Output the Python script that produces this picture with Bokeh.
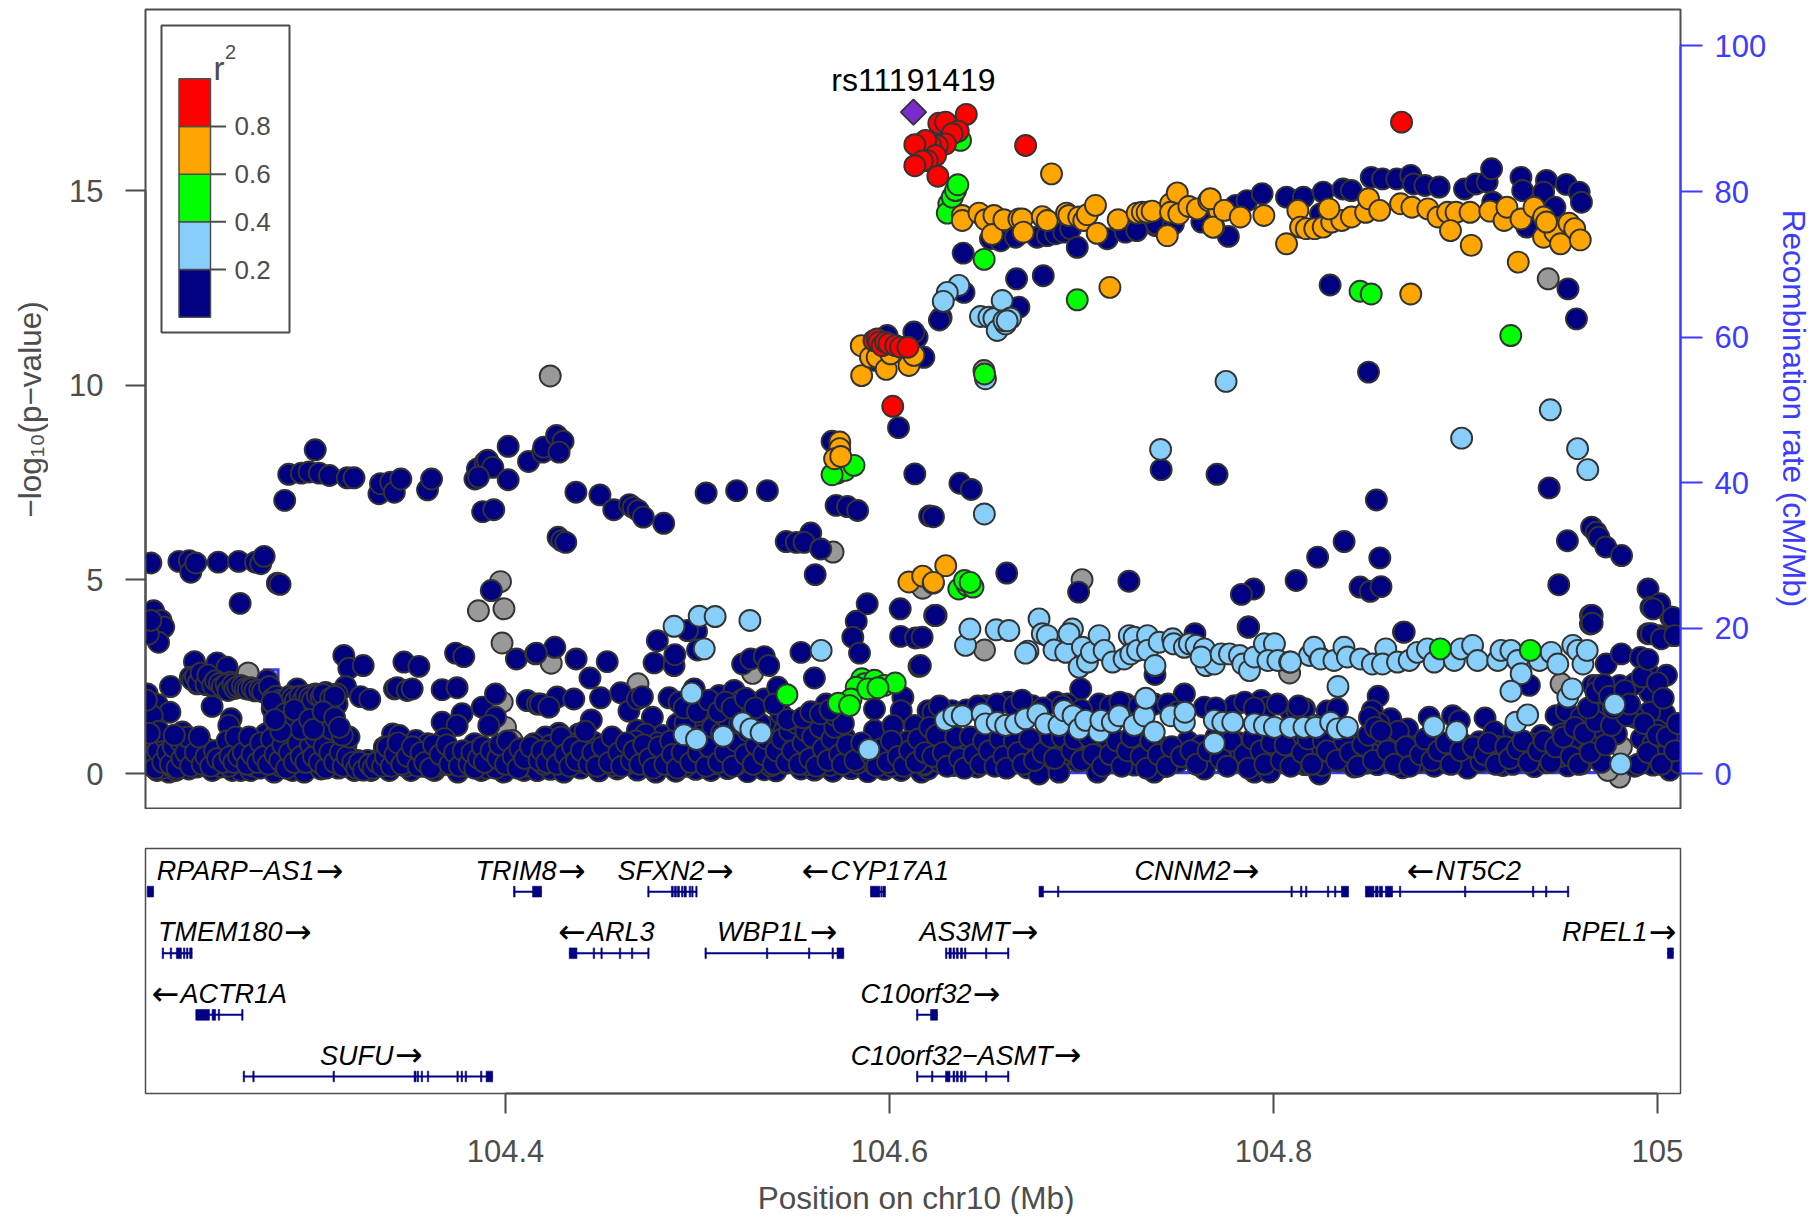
from bokeh.plotting import figure
from bokeh.layouts import column, row
from bokeh.models import Range1d, LinearAxis, FixedTicker
from bokeh.core.properties import value
from bokeh.embed import file_html
from bokeh.resources import INLINE
import math

# SNP positions are Mb above 104, values are -log10(p)
gray_x = [.4233,.5706,.3974,.3859,.3992,.3982,.2660,.4238,.4690,.5287,.6173,.6495,.8084,.6622,.7003,.9431,.6492,.9498,.9803,.9742,.9812,.3983,.4000,.4035,.2300,.4440,.5130]
gray_y = [10.24,5.71,4.95,4.2,4.25,3.37,2.6,2.85,2.32,2.59,4.78,3.19,2.6,.78,5.0,12.74,10.38,2.32,-.08,.09,.69,1.85,1.2,.86,.95,.4,.3]

navy_x = [
.5988,.5927,.6179,.6144,.6127,.6384,.6662,.6801,.6269,.6260,.6388,.6674,
.6526,.6579,.6657,.6769,.6822,.6865,.6908,.6943,.6978,.7134,.7230,.7290,.7386,.7464,.7638,.7765,.7229,.7288,.7391,.7479,.7627,.7803,.7862,.7941,.8068,.8156,.8259,.8362,.8406,.8509,.8568,.8642,.8715,.8730,.8789,.8863,.8995,.9054,.9113,.9136,.9289,.9298,.9422,.9407,.9525,.9592,.9604,.9466,.9319,.9142,.8245,
.8295,.9534,.9578,.8495,
.2850,.2871,.2937,.3009,.2977,.3030,.3083,.3176,.3211,.3341,.3349,.3402,.3421,.3455,.3594,.3615,.3841,.3854,.3894,.3907,.3934,.3859,.4014,.4014,.3881,.3939,.4120,.4194,.4199,.4266,.4300,.4279,.4367,.4492,.4564,.4646,.4665,.4691,.4718,.4824,.5045,.5204,.5364,.4274,.4293,.4314,.5462,.5515,.5590,.5555,.5642,.5613,.5701,.5722,.5781,.5834,.6047,.6132,.6209,.6367,.6426,.6229,
.7415,.7706,.8536,.9436,.9531,.9657,.9681,.9695,.9731,.9813,.9486,.9651,.9651,.9951,1.0010,.9966,1.0069,.9951,1.0010,1.0084,.8554,.8368,.8230,.8118,.7897,.7833,.8451,.8504,.8560,.6985,.7247,.6611,.6243,.7868,.8677,
.2153,.2299,.2353,.2361,.2387,.2504,.2610,.2698,.2725,.2743,.2812,.2826,.2618,.2167,.2206,.2220,.2193,.2140,.2153,.3926,
.2380,.2498,.2550,.2359,.2394,.2429,.2464,.2498,.2533,.2568,.2620,.2672,.2707,.2759,.2255,.2134,.2186,.2252,.2472,.2571,.2559,.3158,.3184,.3259,.3167,.3123,.3123,.3063,.3010,.2967,.2915,.2863,.2811,.2785,.3245,.3293,.2950,.3028,.3080,.3471,.3549,.3740,.3783,.3422,.3436,.3488,.3514,.3670,.3748,.3774,.3879,.3948,.3670,.3748,.3948,.3913,.4057,.4156,.4113,.4166,
.2143,.2186,.2203,.2230,.2247,.2282,.2317,.2325,.2351,.2377,.2395,.2430,.2456,.2473,.2517,.2543,.2578,.2604,.2621,.2647,.2673,.2699,.2752,.2760,.2795,.2812,.2847,.2882,.2891,.2952,.2952,.2969,.3021,.3039,.3073,.3056,.3126,.3169,.3160,.3213,.3230,.3300,.3282,.3352,.3395,.3412,.3447,.3369,.3508,.3473,.3534,.3595,.3630,.3639,.3682,.3700,.3752,.3770,.3839,.3874,.3865,.3939,.3983,.3991,.4017,.4026,.4096,.4140,.4166,.4123,
.2160,.2210,.2260,.2300,.2340,.2480,.2560,.2630,.2690,.2720,.2830,.3100,.3130,.3190,.3250,.3270,.3320,.3340,.3480,.3500,.3530,.3570,.3600,.3650,.3680,.3720,.3790,.3850,.3900,.3950,.4050,.4080,.4110,.4150,
.4257,.4161,.4368,.4530,.4440,.4269,.4356,.4182,.4226,.4495,.4600,.4643,.4687,.4713,.4447,.4791,.4774,.4878,.4882,.4995,.4948,.5000,.5235,.5278,.5348,.5371,.4852,.4904,.4983,.5113,.5191,.5226,.5278,.5348,.5418,.4765,.4817,.4574,.4278,.4208,.4382,.4461,.4687,.4730,.4896,.5035,.5157,.5087,.5383,.5435,.5522,.5609,.5670,.5670,.5766,.5922,.6070,.6061,.5922,.6201,.6131,.6018,.6088,.5809,.5505,.5452,.5261,.5174,.5131,.5609,.5539,.5827,.5809,.5844,.5884,.6056,.6058,.6136,.6154,.6235,
.4165,.4234,.4304,.4391,.4487,.4582,.4687,.4783,.4887,.4991,.5070,.5157,.5261,.5348,.5409,.5539,.5609,.5705,.5800,.5887,.5974,.6061,.6166,.6201,
.4182,.4252,.4339,.4426,.4522,.4617,.4713,.4817,.4913,.5017,.5104,.5209,.5331,.5426,.5479,.5592,.5731,.5870,.5940,.6027,.6122,
.4147,.4234,.4321,.4426,.4574,.4678,.4730,.4791,.4983,.5052,.5244,.5313,.5452,.5505,.5661,.5766,.6027,.6096,.6201,
.4200,.4400,.4560,.4640,.4740,.4840,.4940,.5090,.5200,.5290,.5380,.5460,.5570,.5620,.5690,.5830,.5920,.6010,.6110,.6180,
.6239,.7871,.7591,.7383,.6996,.6170,.6161,
.6227,.6326,.6500,.6617,.6744,.6866,.6927,.7092,.7231,.7379,.7536,.7640,.7797,.7936,.7971,.8092,.8162,
.6213,.6318,.6405,.6466,.6553,.6683,.6779,.6874,.6927,.7066,.7170,.7292,.7396,.7553,.7623,.7814,.7918,.8005,.8127,.8232,
.6178,.6265,.6335,.6405,.6457,.6535,.6631,.6718,.6770,.6883,.6979,.7083,.7161,.7275,.7379,.7431,.7501,.7640,.7884,.7971,.8066,.8162,.8240,
.6196,.6326,.6509,.6631,.6927,.6979,.7292,.7431,.7623,.7831,.8023,
.6779,.6883,.7083,.7379,.7640,.7901,.7979,.8240,
.8681,.9660,.9660,.8545,.8515,.8611,.8698,.8811,.8933,.8968,.9102,.9150,.9251,.9333,.9472,.9394,.9502,.9525,.9603,.9698,.9664,.9733,.9812,.9911,.9954,1.0047,.9960,.9803,.9881,1.0038,.9959,.9881,.9999,.9916,.9786,.9716,.9638,.9977,1.0116,1.0012,.9977,1.0081,.9968,1.0020,1.0090,.9690,
.8106,.8176,.8246,.8315,.8454,.8576,.8663,.8750,.8855,.8994,.9072,.9168,.9290,.9342,.9533,.9585,
.8115,.8176,.8254,.8341,.8420,.8481,.8541,.8672,.8750,.8837,.8916,.9011,.9081,.9194,.9246,.9359,.9420,.9533,.9603,.9707,.9881,.9977,1.0064,1.0116,
.8141,.8211,.8298,.8385,.8507,.8611,.8733,.8811,.8889,.9133,.9272,.9498,.9638,1.0038]
navy_y = [
11.28,10.64,10.72,11.24,11.37,13.4,12.74,12.82,11.74,11.68,12.39,12.01,
13.77,13.72,13.81,13.81,13.85,13.9,13.94,14.03,13.55,13.77,13.98,14.03,14.11,14.24,14.24,13.83,13.94,13.98,14.15,14.15,14.2,14.63,14.75,14.93,14.84,14.84,14.97,15.05,15.01,15.35,15.31,15.31,15.4,15.18,15.14,15.1,15.05,15.18,15.23,15.57,15.35,15.01,15.27,14.97,15.17,14.97,14.71,14.58,14.07,14.71,14.41,
12.58,12.48,11.71,10.34,
7.04,7.71,7.74,8.34,7.77,7.74,7.68,7.62,7.62,7.21,7.47,7.51,7.25,7.59,7.31,7.59,7.59,7.85,8.02,8.07,7.89,7.64,8.43,7.57,6.75,6.8,8.04,8.28,8.41,8.71,8.56,8.28,7.25,7.18,6.8,6.93,6.86,6.78,6.61,6.45,7.23,7.29,7.29,6.09,6.0,5.96,5.98,5.96,6.2,5.96,5.79,5.13,8.56,6.91,6.88,6.78,8.91,7.72,6.64,7.48,7.32,6.62,
7.83,7.71,7.05,7.36,6.0,6.35,6.22,6.09,5.84,5.62,4.87,4.08,3.86,4.76,4.34,4.29,4.04,3.61,3.56,3.56,5.56,5.98,5.58,4.98,4.76,4.62,4.81,4.7,4.82,4.68,4.96,5.17,4.08,3.78,3.65,
5.43,5.47,5.49,5.19,5.43,5.45,5.47,5.45,5.41,5.6,4.91,4.88,4.39,4.2,3.95,3.78,3.39,3.6,3.95,4.72,
2.89,2.86,2.75,2.49,2.32,2.41,2.41,2.32,2.23,2.36,2.28,2.22,2.19,2.41,2.25,2.06,1.79,1.59,1.74,1.42,1.25,3.05,2.72,2.79,2.25,2.06,1.8,2.1,2.06,2.02,2.19,1.85,1.97,1.68,1.99,1.92,1.29,1.38,1.39,2.88,2.77,3.11,3.02,2.19,2.22,2.15,2.19,2.17,2.22,1.55,1.72,2.06,1.33,1.25,1.46,1.25,2.96,3.09,1.89,1.8,
.78,.09,.43,.78,.05,.09,1.08,.18,.13,.78,.18,.69,.35,.09,.18,.6,.09,.69,.09,.78,.09,.35,1.03,.69,.05,1.12,.43,.86,.09,.05,.6,.95,.69,.13,.43,1.03,.86,.73,.35,.09,.35,.09,.35,.43,.09,1.03,.99,.69,.09,.6,.86,.78,.09,.43,.91,.43,.05,.35,.78,.09,.65,.26,.73,.05,.6,.3,.09,.6,.09,.35,
.2,.15,.2,.25,.3,.25,.2,.3,.2,.15,.2,.2,.15,.25,.2,.15,.2,.25,.2,.3,.25,.2,.3,.2,.25,.3,.2,.25,.15,.15,.2,.25,.2,.15,
3.26,3.11,2.96,2.89,2.47,1.98,1.93,1.8,1.72,1.96,2.09,1.62,1.93,1.99,1.39,3.43,2.86,2.79,3.07,3.67,3.69,3.19,2.83,2.96,3.02,2.79,1.96,1.85,2.19,2.02,2.15,1.89,1.85,1.93,2.23,1.46,.99,.86,1.05,.95,1.03,.81,1.12,1.03,1.29,1.29,1.37,1.63,1.2,1.55,1.29,1.37,1.8,1.25,.95,1.67,1.97,1.63,1.12,1.63,1.25,1.25,.81,.69,.95,1.12,1.55,.69,.6,2.47,3.13,3.93,3.52,3.11,4.38,4.25,3.54,3.5,2.77,4.08,
.09,.12,.05,.15,.08,.13,.1,.05,.07,.12,.09,.14,.06,.11,.08,.13,.1,.07,.14,.06,.12,.09,.05,.13,
.43,.4,.47,.38,.45,.41,.5,.37,.44,.42,.48,.36,.46,.39,.43,.47,.41,.38,.45,.42,.4,
.78,.74,.82,.7,.79,.85,.72,.8,.76,.83,.75,.69,.81,.77,.86,.73,.79,.84,.71,
.25,.3,.22,.27,.24,.31,.2,.26,.23,.29,.21,.28,.24,.3,.22,.27,.25,.2,.29,.23,
4.08,3.78,3.61,2.56,2.19,3.52,2.79,
1.59,1.63,1.76,1.85,1.76,1.85,1.8,1.8,1.8,1.8,2.06,1.72,1.76,1.89,1.72,1.59,1.68,
.78,.72,.83,.75,.8,.7,.82,.77,.74,.85,.71,.79,.76,.84,.73,.81,.78,.7,.83,.75,
.26,.3,.22,.28,.18,.32,.24,.16,.27,.21,.33,.2,.29,.23,.25,.19,.31,.22,.26,.17,.28,.24,.2,
.5,.46,.54,.48,.52,.45,.55,.49,.47,.53,.5,
.0,.05,.05,.05,.13,.05,.05,.0,
3.65,4.08,3.88,2.0,1.63,1.42,1.16,1.46,1.5,1.37,1.44,1.09,1.1,2.28,1.5,.99,1.03,1.63,1.46,1.55,2.28,2.83,3.09,3.0,2.58,2.54,2.1,2.28,2.32,1.55,1.59,1.46,1.12,.91,1.03,.91,.78,.78,.86,4.38,4.25,4.03,3.61,3.48,3.56,2.28,
.78,.74,.82,.7,.8,.76,.84,.72,.78,.75,.83,.71,.79,.77,.81,.74,
.3,.26,.22,.33,.18,.28,.24,.16,.3,.2,.27,.15,.32,.22,.25,.19,.29,.21,.26,.3,.2,.23,.1,.28,
.5,.46,.54,.48,.52,.45,.55,.49,.47,.53,.5,.46,.54,.48]

# more of the dense navy mass, as (Mb above 104, -log10 p)
navy_more = [
(.2370,2.42),(.2385,2.5),(.2400,2.35),(.2415,2.6),(.2440,2.3),(.2450,2.55),(.2475,2.28),(.2490,2.4),(.2510,2.33),(.2525,2.25),(.2545,2.3),(.2555,2.15),(.2580,2.3),(.2590,2.2),(.2605,2.25),(.2630,2.26),(.2645,2.2),(.2660,2.18),(.2680,2.2),(.2695,2.14),(.2720,2.16),(.2735,2.12),(.2770,2.25),(.2790,1.95),(.2805,2.0),(.2825,1.9),(.2840,1.8),(.2855,1.92),(.2875,2.0),(.2890,1.95),(.2905,1.88),(.2930,2.0),(.2945,1.9),(.2960,2.02),(.2980,1.96),(.2995,1.9),(.3020,2.02),(.3040,1.98),(.3050,2.05),(.3090,1.95),(.3110,2.0),
(.2135,.35),(.2150,.55),(.2165,.9),(.2175,.15),(.2190,.6),(.2215,.3),(.2225,.95),(.2240,.55),(.2255,.25),(.2270,.7),(.2290,.15),(.2305,.85),(.2315,.4),(.2335,.55),(.2345,.95),(.2360,.2),(.2385,.55),(.2405,.95),(.2420,.25),(.2440,.45),(.2465,.2),(.2485,.6),(.2500,.4),(.2530,.3),(.2550,.85),(.2565,.45),(.2585,.3),(.2595,.95),(.2610,.45),(.2635,.55),(.2655,.25),(.2665,.95),(.2680,.5),(.2710,.3),(.2725,.8),(.2740,.45),(.2765,.25),(.2780,.9),(.2800,.5),(.2825,.35),(.2840,.75),(.2860,.15),(.2875,.55),(.2900,.3),(.2920,.8),(.2935,.45),(.2960,.3),(.2985,.75),(.3000,.45),(.3010,.95),(.3030,.3),(.3055,.7),(.3065,.15),(.3085,.55),(.3095,1.15),(.3110,.3),(.3140,.55),(.3155,.2),(.3175,.45),(.3185,.95),
(.3205,.3),(.3225,.15),(.3240,.3),(.3260,.1),(.3290,.25),(.3310,.15),(.3330,.3),(.3360,.2),(.3375,.45),(.3385,.7),(.3405,.2),(.3425,.5),(.3440,.8),(.3460,.25),(.3490,.45),(.3515,.7),(.3545,.2),(.3560,.55),(.3580,.3),(.3610,.15),(.3625,.75),(.3660,.5),(.3695,.75),(.3710,.25),(.3735,.55),(.3760,.2),(.3780,.6),(.3810,.25),(.3825,.55),(.3840,.15),(.3860,.4),(.3880,.7),(.3890,.3),(.3925,.6),(.3960,.4),(.3970,.75),(.4000,.25),(.4010,.85),(.4040,.45),(.4065,.15),(.4075,.65),(.4100,.4),(.4130,.7),(.4175,.35),
(.4190,.6),(.4215,.3),(.4245,.6),(.4270,.25),(.4290,.95),(.4310,.5),(.4335,.2),(.4350,.7),(.4370,.35),(.4395,.6),(.4415,1.1),(.4435,.25),(.4455,.55),(.4475,.2),(.4505,.7),(.4540,.3),(.4555,.95),(.4590,.55),(.4605,.2),(.4630,.8),(.4655,.35),(.4670,.6),(.4700,.25),(.4720,.75),(.4750,.4),(.4770,.15),(.4800,.7),(.4830,.25),(.4860,.85),(.4870,.5),(.4895,.15),(.4920,.55),(.4935,1.3),(.4965,.3),(.4990,.9),(.5005,.55),(.5025,1.0),(.5045,.2),(.5060,.7),(.5080,1.2),(.5110,.3),(.5125,1.05),(.5145,.55),(.5165,1.35),(.5185,.2),(.5200,.85),(.5220,1.3),(.5250,.5),(.5265,1.1),(.5290,.25),(.5305,.75),(.5325,1.3),(.5345,.5),(.5360,.9),(.5395,.25),(.5410,.6),(.5440,.9),(.5465,.3),(.5480,1.1),(.5495,.6),(.5515,1.3),(.5530,.25),(.5550,.8),(.5565,1.1),(.5585,.4),(.5600,.95),(.5620,.2),(.5640,1.2),(.5655,.65),(.5680,.35),(.5700,.9),(.5715,1.2),(.5740,.5),(.5755,.25),(.5780,.75),(.5820,.35),(.5855,.8),(.5905,.5),(.5935,.2),(.5960,.65),(.5990,.3),(.6010,.85),(.6045,.45),(.6075,.2),(.6105,.6),(.6140,.3),(.6150,.9),(.6185,.55),(.6210,1.2),
(.6225,.45),(.6245,1.0),(.6280,.55),(.6300,.2),(.6345,.95),(.6365,.4),(.6390,.15),(.6420,.95),(.6440,.5),(.6475,.25),(.6490,.85),(.6520,.6),(.6550,.2),(.6575,.9),(.6595,.45),(.6610,.15),(.6650,.85),(.6670,.55),(.6695,.25),(.6730,.9),(.6755,.35),(.6800,.55),(.6840,.95),(.6860,.4),(.6900,.95),(.6950,.6),(.6965,.9),(.7000,.35),(.7040,.95),(.7060,.5),(.7110,.2),(.7130,.95),(.7150,.5),(.7185,.85),(.7210,.2),(.7240,.6),(.7260,.95),(.7310,.45),(.7340,.15),(.7360,.85),(.7400,.5),(.7445,.2),(.7470,.7),(.7520,.45),(.7570,.6),(.7600,.25),(.7660,.6),(.7700,.95),(.7725,.4),(.7760,.2),(.7780,.85),(.7850,.5),(.7870,.15),(.7890,.9),(.7935,.6),(.7955,.25),(.7990,.8),(.8040,.35),(.8060,.75),(.8090,.2),(.8150,.55),(.8180,.9),(.8200,.25),(.8260,.85),
(.8280,.6),(.8300,1.3),(.8330,.35),(.8370,.85),(.8400,.55),(.8440,.2),(.8465,.75),(.8495,1.0),(.8520,.35),(.8550,1.3),(.8595,.6),(.8630,.25),(.8650,1.1),(.8690,.7),(.8710,.2),(.8765,.5),(.8790,.9),(.8825,.35),(.8860,.6),(.8900,.8),(.8925,.25),(.8975,.6),(.9040,.7),(.9100,.5),(.9120,.8),(.9160,.25),(.9210,.7),(.9230,.4),(.9270,.65),(.9300,.85),(.9330,.3),(.9380,.6),(.9410,.85),(.9445,.3),(.9470,.7),(.9510,.95),(.9550,.45),(.9570,1.2),(.9590,.25),(.9620,1.05),(.9650,.55),(.9680,1.35),(.9730,.75),(.9760,1.25),(.9840,1.5),(.9900,.25),(.9930,1.3),(.9950,.55),(1.0000,1.0),(1.0020,.25),(1.0050,.95),(1.0090,.6),(1.0105,1.3),
(.9640,1.7),(.9680,2.1),(.9720,2.3),(.9750,2.0),(.9770,1.7),(.9830,2.15),(.9855,1.8),(.9920,2.5),(.9950,2.95),(1.0000,2.35),(1.0030,1.95),
(.8124,1.62),(.8159,1.65),(.8280,1.62),(.8333,1.68),(.8500,1.45),(.8530,1.2),(.8560,1.1),
(.6260,1.75),(.6400,1.65),(.6460,1.75),(.6560,1.8),(.6650,1.75),(.6690,1.9),(.6800,1.7),(.6900,1.75),(.7000,1.65),(.7150,1.75),(.7200,1.85),(.7300,1.75),(.7450,1.8),(.7500,1.6),(.7700,1.7),(.7850,1.85),(.7900,1.7),(.8020,1.8),(.8130,1.75),
(.4930,1.7),(.5000,1.6),(.5060,1.9),(.5110,1.6),(.5145,1.85),(.5180,1.7),(.5250,1.95),(.5300,1.7),(.5400,1.8),(.5470,1.4),(.5550,1.45),(.5590,1.6),(.5640,1.55),(.5720,1.5),(.5760,1.3),(.5690,1.65),
(.2130,1.2),(.2160,1.5),(.2195,1.1),(.2130,1.9),(.2145,1.05),(.2275,1.0),
(.2785,1.85),(.2850,1.55),(.2880,1.35),(.2900,1.65),(.2935,1.15),(.2980,1.4),(.3000,1.15),(.3050,1.6),(.3110,1.45),(.3150,1.0),(.3135,1.2),(.2830,1.1),(.2800,1.4),
]

ltblue_x = [.6361,.6301,.6280,.6474,.6518,.6544,.6587,.6561,.6605,.6631,.6596,.6613,.6500,.7753,.9442,.7412,.8980,.9584,.9637,.6494,
.4878,.5009,.5092,.5273,.5035,.4970,.5644,.4930,.4995,.5134,.5235,.5278,.5331,.5893,
.6396,.6419,.6556,.6622,.6721,.6709,.6779,.6796,.6822,.6857,.6918,.6953,.6935,.6988,.7005,.7031,.7052,.7092,.7118,.7162,.7222,.7249,.7275,.7257,.7292,.7344,.7344,.7383,.7405,.7475,.7480,.7536,.7562,.7597,.7640,.7649,.7692,.7623,.7727,.7771,.7823,.7840,.7875,.7901,.7953,.8005,.7971,.8023,.8084,.8214,.8188,.8240,
.6292,.6335,.6379,.6483,.6500,.6561,.6605,.6657,.6709,.6773,.6814,.6883,.6909,.6956,.6988,.7022,.7092,.7101,.7161,.7196,.7275,.7327,.7335,.7379,.7466,.7536,.7539,.7692,.7736,.7788,.7692,.7901,.7953,.8005,.8089,.8162,.8214,
.8211,.8246,.8315,.8367,.8385,.8454,.8515,.8585,.8568,.8646,.8707,.8750,.8802,.8837,.8942,.8976,.9037,.9063,.9168,.9185,.9237,.9272,.9290,.9385,.9446,.9481,.9559,.9585,.9612,.9634,.9237,.9533,.9556,.8336,.9777,
.8159,.8220,.8298,.8333,.8385,.8834,.8954,.9263,.9324,.9808,.8089]
ltblue_y = [12.57,12.39,12.16,11.77,11.75,11.72,12.18,11.41,11.58,11.73,11.66,11.66,10.17,10.1,9.37,8.35,8.64,8.37,7.83,6.69,
3.8,4.06,4.05,3.95,3.22,2.08,3.18,1.01,.89,.97,1.32,1.16,1.06,.63,
3.31,3.73,3.71,3.69,3.16,3.11,3.99,3.61,3.56,3.19,3.13,3.73,3.61,2.75,3.26,2.88,3.13,3.56,3.18,2.88,2.96,3.56,3.52,3.09,3.18,3.56,3.18,2.79,3.39,3.48,3.35,3.26,3.35,3.31,3.22,2.79,2.83,3.01,3.09,3.09,3.05,2.83,2.66,3.01,3.35,3.35,2.92,2.92,2.88,3.22,3.05,3.01,
1.38,1.5,1.5,1.55,1.29,1.33,1.25,1.29,1.42,1.55,1.29,1.25,1.63,1.5,1.16,1.38,1.08,1.38,1.33,1.5,1.25,1.5,1.95,1.08,1.5,1.33,1.59,1.38,1.33,1.33,.79,1.29,1.25,1.2,1.2,1.2,1.25,
3.26,2.96,2.92,3.26,3.01,2.96,2.83,3.22,2.83,2.88,2.92,3.13,3.22,2.88,2.92,3.22,3.31,2.92,2.92,3.18,3.18,2.92,2.58,2.92,3.13,2.83,3.31,3.18,2.83,3.18,2.13,1.98,2.19,2.25,1.79,
1.2,1.2,1.33,1.16,1.2,1.22,1.09,1.33,1.52,.26,2.88]

green_x = [.6370,.6309,.6301,.6327,.6344,.6356,.6493,.6978,.6495,.8451,.8509,.9236,.5728,.5768,.5815,.5701,
.6361,.6405,.6435,.6391,.6420,.8869,.9338,
.5856,.5870,.5922,.5974,.6030,.5827,.5800,.5734,.5792,.5887,.5940,.5466]
green_y = [16.3,14.67,14.43,14.84,15.01,15.16,13.24,12.2,10.29,12.42,12.35,11.28,7.74,7.81,7.94,7.7,
4.76,4.85,4.81,4.98,4.93,3.22,3.18,
2.45,2.32,2.41,2.28,2.34,2.23,1.93,1.82,1.76,2.19,2.22,2.04]

orange_x = [.5853,.5855,.5901,.5936,.5983,.6006,.6101,.6127,.5741,.5741,.5714,.5746,
.6101,.6173,.6227,.6293,.6229,
.6379,.6379,.6466,.6500,.6544,.6535,.6596,.6674,.6691,.6697,.6796,.6822,.6922,.6934,.6986,.7012,.7030,.7073,.7082,.7191,.7290,.7317,.7342,.7368,.7447,.7464,.7499,.7464,.7507,.7559,.7603,.7663,.7690,.7716,
.7671,.7685,.7744,.7827,.7950,.8068,.8127,.8141,.8171,.8215,.8259,.8303,.8356,.8406,.8289,.8480,.8495,.8553,.8662,.8721,.8804,.8857,.8907,.8951,.9024,.8922,.9030,.9127,.9201,.9216,.9289,.9357,.9275,.8715,.9407,.9436,.9407,.9466,.9495,.9539,.9569,.9598,.9422,
.6844,.7148]
orange_y = [11.02,10.25,10.72,10.72,10.41,10.81,10.51,10.77,8.54,8.37,8.11,8.17,
4.94,5.09,4.91,5.36,4.93,
14.37,14.24,14.43,14.26,14.37,13.88,14.26,14.28,14.28,13.94,14.34,14.24,14.43,14.37,14.33,14.24,14.39,14.63,13.91,14.26,14.43,14.45,14.45,14.48,13.85,14.67,14.95,14.45,14.41,14.6,14.54,14.75,14.07,14.5,
14.8,14.07,14.5,14.33,14.37,13.64,14.5,14.07,14.03,14.03,14.07,14.2,14.24,14.33,14.54,14.45,14.8,14.5,14.67,14.58,14.54,14.33,14.45,14.45,14.45,13.98,13.6,14.48,14.24,14.58,14.28,14.58,13.17,12.35,14.33,14.11,13.81,13.94,13.64,14.17,14.03,13.74,14.2,
15.44,12.52]

red_x = [.6257,.6292,.6400,.6358,.6327,.6292,.6249,.6214,.6188,.6132,.6240,.6197,.6171,.6132,.6252,.6709,.8667,
.5919,.5936,.5945,.5962,.5980,.5997,.6032,.6058,.6096,.6017]
red_y = [16.74,16.77,16.97,16.54,16.47,16.21,16.17,16.17,16.3,16.19,15.91,15.78,15.77,15.65,15.38,16.17,16.77,
11.15,11.19,11.11,11.02,11.11,11.07,11.02,10.98,10.98,9.46]

lead_snp = "rs11191419"
lead_x = [.6125]
lead_y = [17.03]

recomb_x = [.2125,.2745,.2745,.2815,.2815,1.0120]
recomb_y = [.1,.1,14.3,14.3,.2,.2]

# Genes: name, arrow, label edge on the arrow side, row, exon starts, exon ends (Mb above 104)
genes = [
 ("RPARP−AS1","→",.3156,1,[.2134],[.2167]),
 ("TRIM8","→",.4417,1,[.4042,.4141],[.4050,.4188]),
 ("SFXN2","→",.5188,1,[.4741,.4864,.4880,.4896,.4917,.4930,.4957,.4970,.4991],[.4748,.4874,.4890,.4906,.4924,.4942,.4964,.4977,.4998]),
 ("CYP17A1","←",.5542,1,[.5901,.5955,.5965],[.5950,.5960,.5979]),
 ("CNNM2","→",.7927,1,[.6779,.6875,.8091,.8141,.8167,.8281,.8318,.8354],[.6802,.6882,.8098,.8148,.8174,.8288,.8325,.8391]),
 ("NT5C2","←",.8693,1,[.8479,.8531,.8552,.8583,.8656,.8995,.9349,.9417,.9531],[.8523,.8545,.8568,.8620,.8663,.9002,.9356,.9424,.9538]),
 ("TMEM180","→",.2990,2,[.2212,.2254,.2286,.2323,.2339,.2355],[.2219,.2261,.2312,.2330,.2346,.2368]),
 ("ARL3","←",.4273,2,[.4332,.4457,.4497,.4593,.4656,.4741],[.4372,.4464,.4504,.4600,.4663,.4748]),
 ("WBP1L","→",.5729,2,[.5039,.5359,.5578,.5701,.5727],[.5046,.5366,.5585,.5708,.5762]),
 ("AS3MT","→",.6776,2,[.6292,.6310,.6331,.6349,.6370,.6391,.6500,.6615],[.6299,.6322,.6340,.6358,.6380,.6398,.6507,.6622]),
 ("RPEL1","→",1.0099,2,[1.0052],[1.0083]),
 ("ACTR1A","←",.2156,3,[.2387,.2472,.2504,.2626],[.2458,.2490,.2511,.2633]),
 ("C10orf32","→",.6578,3,[.6141,.6214],[.6148,.6250]),
 ("SUFU","→",.3568,4,[.2634,.2684,.3102,.3524,.3540,.3561,.3593,.3747,.3769,.3790,.3870,.3899],[.2641,.2691,.3109,.3534,.3547,.3568,.3600,.3754,.3776,.3797,.3877,.3933]),
 ("C10orf32−ASMT","→",.7000,4,[.6141,.6219,.6292,.6331,.6349,.6370,.6391,.6500,.6615],[.6148,.6226,.6315,.6340,.6358,.6380,.6398,.6507,.6622]),
]

legend_bins = [0.0,0.2,0.4,0.6,0.8,1.0]
legend_colors = ["#000080","#87CEFA","#00FF00","#FFA500","#FF0000"]
legend_ticks = [0.2,0.4,0.6,0.8]

left_ticks = [0,5,10,15]
right_ticks = [0,20,40,60,80,100]
x_ticks = [104.4,104.6,104.8,105]
x_labels = {104.4:"104.4",104.6:"104.6",104.8:"104.8",105:"105"}
y_title = "−log₁₀(p−value)"
r_title = "Recombination rate (cM/Mb)"
x_title = "Position on chr10 (Mb)"

FONT = "Liberation Sans"
GR = "#4D4D4D"
BLUE = "#3C3CFF"
XR = Range1d(104.2125,105.012)
LEFT_STRIP = 48
RIGHT_STRIP = 44
MAIN_W = 1722

def xd(px): return 104.4+(px-505)/1920
def yd(py): return (773.5-py)/38.87

def mbs(v): return [104+a for a in v]

p = figure(width=MAIN_W,height=809,x_range=XR,y_range=Range1d(-0.8876,19.668),
           output_backend="svg",toolbar_location=None,x_axis_location=None,
           min_border_left=145-LEFT_STRIP,min_border_right=MAIN_W-1632+LEFT_STRIP-LEFT_STRIP,min_border_top=9,min_border_bottom=1)
p.grid.visible=False
p.outline_line_color=GR; p.outline_line_width=2
p.background_fill_color="white"
ya=p.yaxis[0]
ya.ticker=FixedTicker(ticks=left_ticks); ya.bounds=(0,15)
def style(ax,c):
    ax.major_tick_line_color=c; ax.major_tick_line_width=2
    ax.major_tick_out=20; ax.major_tick_in=0; ax.minor_tick_line_color=None
    ax.axis_line_color=c; ax.axis_line_width=2
    ax.major_label_text_color=c
    ax.major_label_text_font=FONT
    ax.major_label_text_font_size="31px"
style(ya,GR)
ya.major_label_standoff=22
ya.major_label_orientation="horizontal"

p.extra_y_ranges={"recomb":Range1d(-4.74,105.01)}
ra=LinearAxis(y_range_name="recomb",ticker=FixedTicker(ticks=right_ticks),bounds=(0,100))
style(ra,BLUE)
ra.major_tick_out=22
ra.major_label_standoff=12
ra.major_label_orientation="horizontal"
p.add_layout(ra,"right")

p.line(mbs(recomb_x),recomb_y,y_range_name="recomb",line_color=BLUE,line_width=3.2,line_join="miter")

def pts(x,y,c):
    p.scatter(mbs(x),y,size=21,fill_color=c,line_color="#333333",line_width=1.9,marker="circle")
pts(gray_x,gray_y,"#999999")
pts(navy_x+[a for a,b in navy_more],navy_y+[b for a,b in navy_more],"#000080")
pts(ltblue_x,ltblue_y,"#87CEFA")
pts(green_x,green_y,"#00FF00")
pts(orange_x,orange_y,"#FFA500")
pts(red_x,red_y,"#FF0000")
p.scatter(mbs(lead_x),lead_y,marker="square",angle=math.pi/4,size=18,fill_color="#7B2ACB",line_color="#333333",line_width=1.8)
p.text(mbs(lead_x),[yd(80)],text=[lead_snp],text_font=value(FONT),text_font_size="32px",text_color="black",text_align="center",text_baseline="middle")

# r2 legend
p.quad(left=[xd(161)],right=[xd(289)],top=[yd(25)],bottom=[yd(332)],fill_color="white",line_color=GR,line_width=2)
def ly(v): return yd(316.7-(316.7-78.3)*v)
p.quad(left=[xd(178.5)]*5,right=[xd(210)]*5,bottom=[ly(v) for v in legend_bins[:-1]],top=[ly(v) for v in legend_bins[1:]],
       fill_color=legend_colors,line_color=GR,line_width=1.5)
p.segment(x0=[xd(210)]*4,x1=[xd(225.5)]*4,y0=[ly(v) for v in legend_ticks],y1=[ly(v) for v in legend_ticks],line_color=GR,line_width=2)
p.text([xd(234)]*4,[ly(v) for v in legend_ticks],text=[str(v) for v in legend_ticks],text_font=value(FONT),text_font_size="26px",text_color=GR,text_baseline="middle",text_align="left")
p.text([xd(213)],[yd(68)],text=["r"],text_font=value(FONT),text_font_size="33px",text_color=GR,text_baseline="alphabetic",text_align="left")
p.text([xd(224.5)],[yd(52)],text=["2"],text_font=value(FONT),text_font_size="20px",text_color=GR,text_baseline="alphabetic",text_align="left")

# gene panel
g = figure(width=MAIN_W,height=369,x_range=XR,y_range=Range1d(4.276,0.30),
           output_backend="svg",toolbar_location=None,y_axis_location=None,
           min_border_left=145-LEFT_STRIP,min_border_right=90,min_border_top=39,min_border_bottom=85)
g.grid.visible=False
g.outline_line_color=GR; g.outline_line_width=1.5
xa=g.xaxis[0]
xa.ticker=FixedTicker(ticks=x_ticks); xa.bounds=(104.4,105)
xa.major_label_overrides=x_labels
style(xa,GR)
xa.major_label_standoff=26
for name,arrow,edge,row_n,st,en in genes:
    s=104+st[0]; e=104+en[-1]
    g.segment(x0=[s],x1=[e],y0=[row_n],y1=[row_n],line_color="#000080",line_width=2)
    g.quad(left=mbs(st),right=mbs(en),bottom=[row_n+0.087]*len(st),top=[row_n-0.087]*len(st),fill_color="#000080",line_color="#000080",line_width=0.6)
    right = arrow=="→"
    g.text([104+edge],[row_n-0.34],text=[name],x_offset=-29 if right else 29,text_font=value(FONT),text_font_style="italic",text_font_size="27px",text_color="black",
           text_align="right" if right else "left",text_baseline="middle")
    g.text([104+edge],[row_n-0.35],text=[arrow],text_font=value("DejaVu Sans"),text_font_size="33px",text_color="black",
           text_align="right" if right else "left",text_baseline="middle")

# strips that carry the axis titles
def strip(w,h):
    f=figure(width=w,height=h,x_range=Range1d(0,w),y_range=Range1d(h,0),output_backend="svg",toolbar_location=None,
             x_axis_location=None,y_axis_location=None,min_border=0)
    f.grid.visible=False; f.outline_line_color=None
    return f
left_strip=strip(LEFT_STRIP,809)
left_strip.text([29],[409],text=[y_title],angle=math.pi/2,text_font=value(FONT),text_font_size="31.5px",text_color=GR,text_align="center",text_baseline="middle")
right_strip=strip(RIGHT_STRIP,809)
right_strip.text([23],[408],text=[r_title],angle=-math.pi/2,text_font=value(FONT),text_font_size="31.5px",text_color=BLUE,text_align="center",text_baseline="middle")
x_strip=strip(MAIN_W,36)
x_strip.text([912.5-LEFT_STRIP],[19],text=[x_title],text_font=value(FONT),text_font_size="31.5px",text_color=GR,text_align="center",text_baseline="middle")

page=row(left_strip,column(p,g,x_strip,spacing=0),right_strip,spacing=0)
open("out.html","w").write(file_html(page,INLINE))
